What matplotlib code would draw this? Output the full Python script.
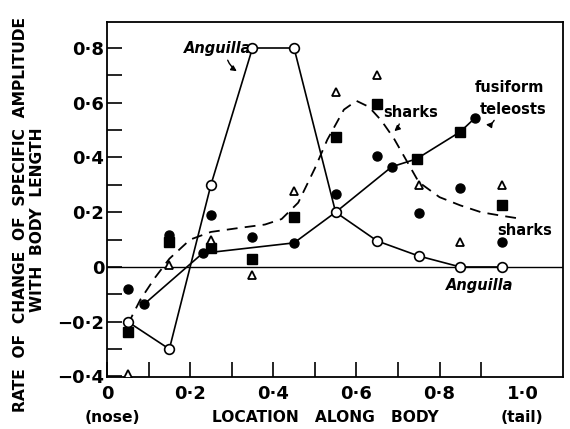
"""
Rate of change of specific amplitude along the body (Anguilla, sharks, fusiform teleosts).
"""

import matplotlib
matplotlib.use('Agg')
import matplotlib.pyplot as plt

# Anguilla (open circles, solid line)
anguilla_x = [0.05, 0.15, 0.25, 0.35, 0.45, 0.55, 0.65, 0.75, 0.85, 0.95]
anguilla_y = [-0.20, -0.30, 0.30, 0.80, 0.80, 0.20, 0.095, 0.04, 0.0, 0.0]

# fusiform teleosts line
teleost_x = [0.09, 0.23, 0.45, 0.55, 0.685, 0.745, 0.85, 0.885]
teleost_y = [-0.135, 0.05, 0.088, 0.20, 0.366, 0.395, 0.494, 0.544]

# filled circles
circle_x = [0.05, 0.09, 0.15, 0.23, 0.25, 0.35, 0.45, 0.55, 0.55, 0.65, 0.685, 0.75, 0.85, 0.885, 0.95]
circle_y = [-0.08, -0.135, 0.115, 0.05, 0.19, 0.11, 0.088, 0.20, 0.265, 0.405, 0.366, 0.197, 0.289, 0.544, 0.091]

# filled squares
square_x = [0.05, 0.15, 0.25, 0.35, 0.45, 0.55, 0.65, 0.745, 0.85, 0.95]
square_y = [-0.238, 0.093, 0.07, 0.029, 0.183, 0.475, 0.596, 0.395, 0.494, 0.228]

# open triangles
triangle_x = [0.05, 0.15, 0.25, 0.35, 0.45, 0.55, 0.65, 0.75, 0.85, 0.95]
triangle_y = [-0.391, 0.007, 0.099, -0.029, 0.278, 0.64, 0.70, 0.30, 0.093, 0.30]

# sharks (dashed curve)
sharks_x = [0.05, 0.08, 0.115, 0.15, 0.20, 0.25, 0.32, 0.38, 0.42, 0.46, 0.50, 0.53,
            0.57, 0.60, 0.63, 0.66, 0.69, 0.72, 0.75, 0.80, 0.85, 0.90, 0.95, 1.0]
sharks_y = [-0.21, -0.12, -0.04, 0.03, 0.10, 0.128, 0.143, 0.155, 0.175, 0.235, 0.36, 0.465,
            0.575, 0.607, 0.585, 0.535, 0.47, 0.39, 0.31, 0.255, 0.225, 0.20, 0.187, 0.175]

xtick_vals = [0, 0.2, 0.4, 0.6, 0.8, 1.0]
xtick_labels = ['0', '0·2', '0·4', '0·6', '0·8', '1·0']
ytick_vals = [-0.4, -0.2, 0, 0.2, 0.4, 0.6, 0.8]
ytick_labels = ['\u22120·4', '\u22120·2', '0', '0·2', '0·4', '0·6', '0·8']


def main():
    plt.rcParams['font.family'] = ['DejaVu Sans']
    plt.rcParams['font.weight'] = 'bold'

    fig = plt.figure(figsize=(5.7, 4.29), dpi=100)
    ax = fig.add_axes([107 / 570, 1 - 377 / 429, 456 / 570, 355 / 429])

    ax.axhline(0, color='black', lw=1.0, zorder=1)

    ax.plot(sharks_x, sharks_y, color='black', lw=1.3, dashes=(6, 4), zorder=2)
    ax.plot(teleost_x, teleost_y, color='black', lw=1.2, zorder=2)
    ax.plot(anguilla_x, anguilla_y, color='black', lw=1.2, marker='o', ms=7,
            mfc='white', mec='black', mew=1.2, zorder=4)

    ax.plot(circle_x, circle_y, 'o', color='black', ms=6.5, zorder=3)
    ax.plot(square_x, square_y, 's', color='black', ms=6.5, zorder=3)
    ax.plot(triangle_x, triangle_y, '^', ms=6, mfc='white', mec='black', mew=1.3, zorder=3)

    ax.set_xlim(0, 1.097)
    ax.set_ylim(-0.402, 0.895)

    ax.set_xticks(xtick_vals)
    ax.set_xticklabels(xtick_labels)
    ax.set_xticks([0.1, 0.3, 0.5, 0.7, 0.9], minor=True)
    ax.set_yticks(ytick_vals)
    ax.set_yticklabels(ytick_labels)
    ax.set_yticks([-0.3, -0.1, 0.1, 0.3, 0.5, 0.7], minor=True)
    ax.tick_params(which='both', direction='in', length=11, width=1.2,
                   labelsize=13)
    ax.tick_params(axis='x', pad=6)
    ax.tick_params(axis='y', pad=2)
    ax.xaxis.get_major_ticks()[-1].tick1line.set_visible(False)
    for s in ax.spines.values():
        s.set_linewidth(1.3)

    ital = dict(fontsize=10.5, fontweight='bold', style='italic', ha='center', va='center')
    norm = dict(fontsize=10.5, fontweight='bold', ha='center', va='center')
    arrow = dict(arrowstyle='-|>', color='black', lw=1.0, mutation_scale=8)

    ax.text(0.266, 0.80, 'Anguilla', **ital)
    ax.annotate('', xy=(0.318, 0.71), xytext=(0.288, 0.765),
                arrowprops=dict(arrow, connectionstyle='arc3,rad=0.2'))
    ax.text(0.731, 0.563, 'sharks', **norm)
    ax.annotate('', xy=(0.686, 0.49), xytext=(0.705, 0.532),
                arrowprops=dict(arrow, connectionstyle='arc3,rad=-0.2'))
    ax.text(0.969, 0.654, 'fusiform', **norm)
    ax.text(0.976, 0.574, 'teleosts', **norm)
    ax.annotate('', xy=(0.905, 0.523), xytext=(0.934, 0.545),
                arrowprops=dict(arrow, connectionstyle='arc3,rad=-0.5'))
    ax.text(1.005, 0.135, 'sharks', **norm)
    ax.text(0.897, -0.066, 'Anguilla', **ital)

    # axis titles
    fig.text(21 / 570, 1 - 214 / 429, 'RATE  OF  CHANGE  OF  SPECIFIC  AMPLITUDE',
             rotation=90, ha='center', va='center', fontsize=11.2, fontweight='bold')
    fig.text(38 / 570, 1 - 220 / 429, 'WITH  BODY  LENGTH',
             rotation=90, ha='center', va='center', fontsize=11.2, fontweight='bold')
    fig.text(325 / 570, 1 - 418 / 429, 'LOCATION   ALONG   BODY',
             ha='center', va='center', fontsize=11.2, fontweight='bold')
    fig.text(112 / 570, 1 - 418 / 429, '(nose)', ha='center', va='center',
             fontsize=11.2, fontweight='bold')
    fig.text(522 / 570, 1 - 418 / 429, '(tail)', ha='center', va='center',
             fontsize=11.2, fontweight='bold')

    fig.savefig('out.png', dpi=100)


if __name__ == '__main__':
    main()
